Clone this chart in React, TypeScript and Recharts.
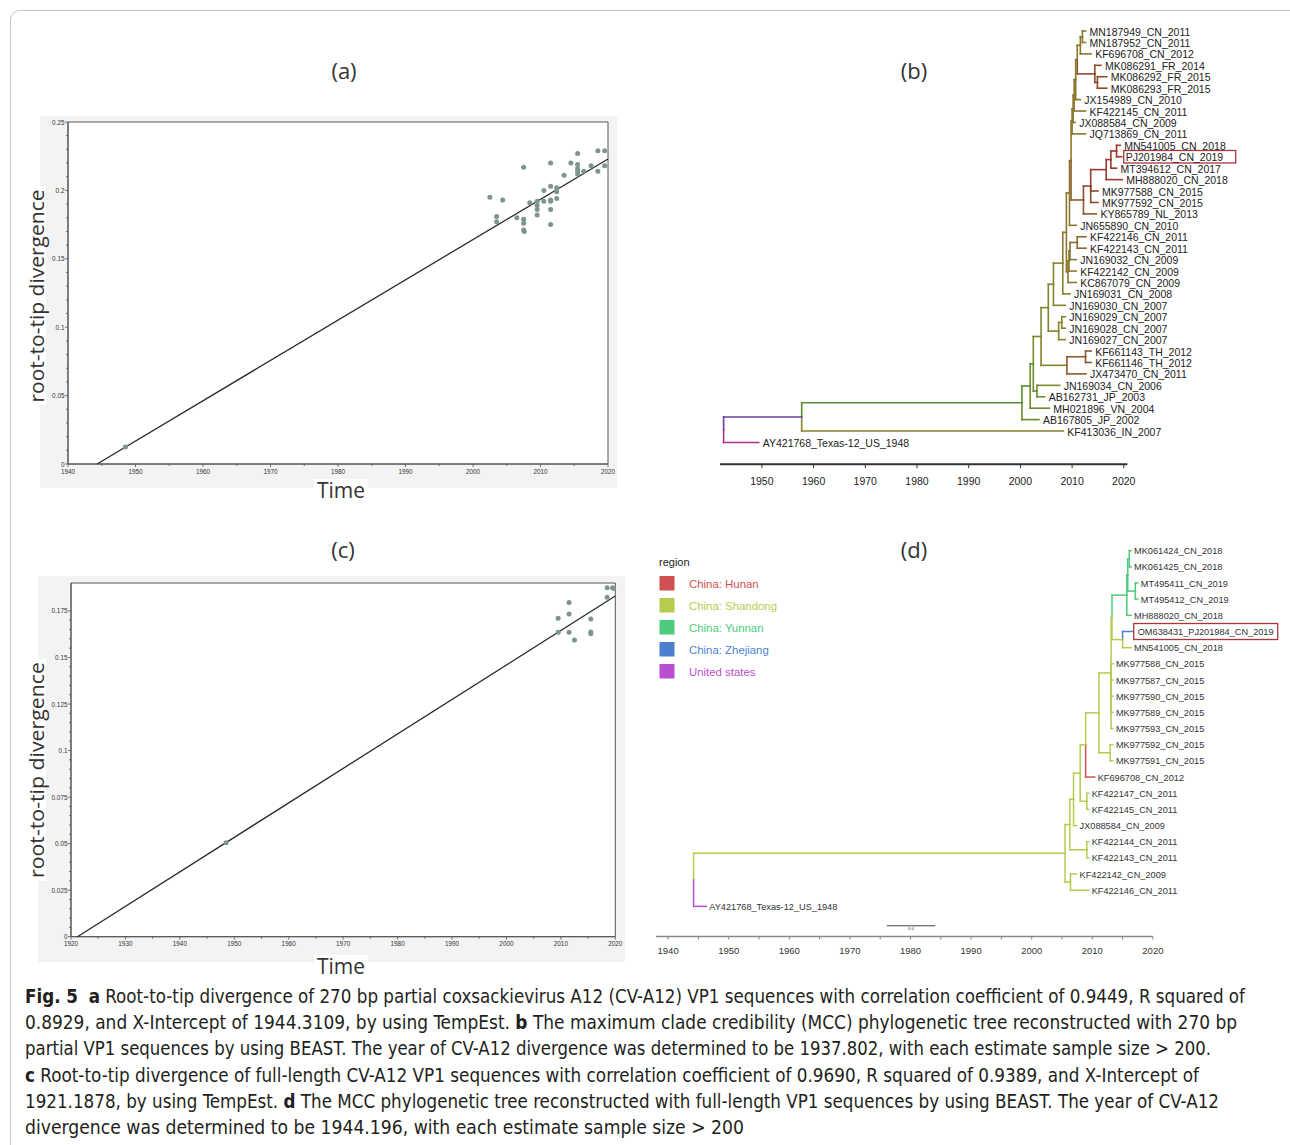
import React from "react";
import { ComposedChart, Scatter, XAxis, YAxis, ReferenceLine, ReferenceArea } from "recharts";

// ---------------- data ----------------
// (a) root-to-tip divergence, 270 bp partial VP1  [year, divergence]
const rttA: [number, number][] = [
  [1948.5, 0.0125],
  [2002.5, 0.195], [2004.4, 0.193], [2003.5, 0.181], [2003.5, 0.177], [2006.5, 0.18],
  [2007.5, 0.217], [2007.5, 0.179], [2007.5, 0.176], [2007.5, 0.171], [2007.6, 0.17],
  [2008.4, 0.191], [2009.5, 0.192], [2009.5, 0.189], [2009.5, 0.186], [2009.5, 0.182],
  [2010.5, 0.2], [2010.5, 0.192], [2011.5, 0.22], [2011.5, 0.203], [2011.5, 0.193],
  [2011.5, 0.192], [2011.5, 0.186], [2011.5, 0.175], [2012.4, 0.202], [2012.4, 0.199],
  [2012.4, 0.194], [2013.5, 0.211], [2014.5, 0.22], [2015.5, 0.227], [2015.5, 0.219],
  [2015.5, 0.216], [2015.5, 0.214], [2015.5, 0.212], [2016.4, 0.214], [2017.5, 0.218],
  [2018.5, 0.229], [2018.5, 0.214], [2019.5, 0.229], [2019.5, 0.218],
];
const fitA_years = [1944.3109, 2020];
const fitA_div = [0, 0.223];

// (c) root-to-tip divergence, full-length VP1
const rttC: [number, number][] = [
  [1948.5, 0.0505],
  [2009.5, 0.171], [2009.5, 0.1636], [2011.5, 0.1795], [2011.5, 0.1734], [2011.5, 0.1636],
  [2012.5, 0.1594], [2015.5, 0.1707], [2015.5, 0.1637], [2015.5, 0.1627],
  [2018.5, 0.1874], [2018.5, 0.1824], [2019.5, 0.1874], [2019.7, 0.187],
];
const fitC_years = [1921.1878, 2020];
const fitC_div = [0, 0.183];

const yearTicksA = [1940, 1950, 1960, 1970, 1980, 1990, 2000, 2010, 2020];
const divTicksA = [0, 0.05, 0.1, 0.15, 0.2, 0.25];
const yearTicksC = [1920, 1930, 1940, 1950, 1960, 1970, 1980, 1990, 2000, 2010, 2020];
const divTicksC = [0, 0.025, 0.05, 0.075, 0.1, 0.125, 0.15, 0.175];
const yearTicksB = [1950, 1960, 1970, 1980, 1990, 2000, 2010, 2020];
const yearTicksD = [1940, 1950, 1960, 1970, 1980, 1990, 2000, 2010, 2020];

// (b) MCC tree, 270 bp partial VP1
const treeB_leaves = [
  "MN187949_CN_2011", "MN187952_CN_2011", "KF696708_CN_2012", "MK086291_FR_2014",
  "MK086292_FR_2015", "MK086293_FR_2015", "JX154989_CN_2010", "KF422145_CN_2011",
  "JX088584_CN_2009", "JQ713869_CN_2011", "MN541005_CN_2018", "PJ201984_CN_2019",
  "MT394612_CN_2017", "MH888020_CN_2018", "MK977588_CN_2015", "MK977592_CN_2015",
  "KY865789_NL_2013", "JN655890_CN_2010", "KF422146_CN_2011", "KF422143_CN_2011",
  "JN169032_CN_2009", "KF422142_CN_2009", "KC867079_CN_2009", "JN169031_CN_2008",
  "JN169030_CN_2007", "JN169029_CN_2007", "JN169028_CN_2007", "JN169027_CN_2007",
  "KF661143_TH_2012", "KF661146_TH_2012", "JX473470_CN_2011", "JN169034_CN_2006",
  "AB162731_JP_2003", "MH021896_VN_2004", "AB167805_JP_2002", "KF413036_IN_2007",
  "AY421768_Texas-12_US_1948",
];
const treeB_tips = [
  2012.6, 2012.6, 2013.7, 2015.6, 2016.7, 2016.7, 2011.6, 2012.6, 2010.6, 2012.6,
  2019.3, 2019.6, 2018.6, 2019.7, 2015.0, 2015.0, 2014.7, 2010.8, 2012.7, 2012.7,
  2010.8, 2010.8, 2010.8, 2009.6, 2008.7, 2008.7, 2008.7, 2008.7, 2013.7, 2013.7,
  2012.7, 2007.6, 2004.7, 2005.6, 2003.6, 2008.3, 1949.4,
];
type NodeDef = [string, number, (number | string)[]];
const treeB_nodes: NodeDef[] = [
  ["U1", 2012.0, [0, 1]],
  ["U2", 2011.6, ["U1", 2]],
  ["FRa", 2014.9, [4, 5]],
  ["FR", 2014.4, [3, "FRa"]],
  ["U3", 2011.0, ["U2", "FR"]],
  ["U4", 2010.7, ["U3", 6]],
  ["U5", 2010.4, ["U4", 7]],
  ["U6", 2010.2, ["U5", 8]],
  ["U7", 2010.0, ["U6", 9]],
  ["R1", 2018.6, [10, 11]],
  ["R2", 2017.5, ["R1", 12]],
  ["R3", 2016.6, ["R2", 13]],
  ["R4", 2013.6, ["R3", 14, 15]],
  ["R5", 2012.2, ["R4", 16]],
  ["U8", 2009.8, ["U7", "R5"]],
  ["U9", 2009.5, ["U8", 17]],
  ["L1", 2011.0, [18, 19]],
  ["L2", 2009.6, ["L1", 20]],
  ["L3", 2009.4, ["L2", 21]],
  ["L4", 2009.2, ["L3", 22]],
  ["U10", 2008.9, ["U9", "L4"]],
  ["N8", 2008.2, ["U10", 23]],
  ["N7", 2006.4, ["N8", 24]],
  ["G1", 2008.0, [25, 26]],
  ["G2", 2007.4, ["G1", 27]],
  ["N6", 2005.4, ["N7", "G2"]],
  ["THa", 2012.6, [28, 29]],
  ["TH", 2009.0, ["THa", 30]],
  ["N5", 2004.0, ["N6", "TH"]],
  ["N4", 2003.2, [31, 32]],
  ["N3", 2002.5, ["N5", "N4"]],
  ["N2", 2001.9, ["N3", 33]],
  ["N1", 2000.3, ["N2", 34]],
  ["R0", 1957.7, ["N1", 35]],
  ["root", 1942.6, ["R0", 36]],
];
const treeB_highlight = "PJ201984_CN_2019";

// (d) MCC tree, full-length VP1
const regions = ["China: Hunan", "China: Shandong", "China: Yunnan", "China: Zhejiang", "United states"];
const treeD_leaves = [
  "MK061424_CN_2018", "MK061425_CN_2018", "MT495411_CN_2019", "MT495412_CN_2019",
  "MH888020_CN_2018", "OM638431_PJ201984_CN_2019", "MN541005_CN_2018", "MK977588_CN_2015",
  "MK977587_CN_2015", "MK977590_CN_2015", "MK977589_CN_2015", "MK977593_CN_2015",
  "MK977592_CN_2015", "MK977591_CN_2015", "KF696708_CN_2012", "KF422147_CN_2011",
  "KF422145_CN_2011", "JX088584_CN_2009", "KF422144_CN_2011", "KF422143_CN_2011",
  "KF422142_CN_2009", "KF422146_CN_2011", "AY421768_Texas-12_US_1948",
];
const treeD_tips = [
  2016.4, 2016.4, 2017.5, 2017.5, 2016.4, 2017.0, 2016.4, 2013.4, 2013.4, 2013.4,
  2013.4, 2013.4, 2013.4, 2013.4, 2010.4, 2009.4, 2009.4, 2007.4, 2009.4, 2009.4,
  2007.4, 2009.4, 1946.3,
];
const treeD_leafRegion = [2, 2, 2, 2, 2, 3, 1, 1, 1, 1, 1, 1, 1, 1, 0, 1, 1, 1, 1, 1, 1, 1, 4];
const treeD_nodes: NodeDef[] = [
  ["Y1", 2016.1, [0, 1]],
  ["Y2", 2017.1, [2, 3]],
  ["Y3", 2015.85, ["Y1", "Y2"]],
  ["Y4", 2015.7, ["Y3", 4]],
  ["Z2", 2015.0, [5, 6]],
  ["Z", 2013.25, ["Y4", "Z2"]],
  ["Z3", 2013.1, ["Z", 7, 8, 9, 10, 11]],
  ["Z6", 2012.95, [12, 13]],
  ["Z7", 2011.1, ["Z3", "Z6"]],
  ["Z8", 2008.9, ["Z7", 14]],
  ["Z10", 2009.1, [15, 16]],
  ["Z9", 2008.0, ["Z8", "Z10"]],
  ["Z11", 2006.9, ["Z9", 17]],
  ["Zk", 2009.1, [18, 19]],
  ["Z12", 2006.3, ["Z11", "Zk"]],
  ["Zm", 2006.4, [20, 21]],
  ["Z13", 2005.5, ["Z12", "Zm"]],
  ["root", 1944.2, ["Z13", 22]],
];
const treeD_nodeRegion: Record<string, number> = {
  Y1: 2, Y2: 2, Y3: 2, Y4: 2, Z2: 1, Z: 1, Z3: 1, Z6: 1, Z7: 1, Z8: 1, Z10: 1, Z9: 1,
  Z11: 1, Zk: 1, Z12: 1, Zm: 1, Z13: 1, root: 1,
};
const treeD_highlight = "OM638431_PJ201984_CN_2019";
const scaleBarD_length = 8.0;

// ---------------- styles ----------------
const FF = "'Liberation Sans', Arial, Helvetica, sans-serif";
const FT = "'Open Sans', 'Noto Sans', sans-serif";
const CAP_FONT = "'DejaVu Sans Condensed', 'Liberation Sans Narrow', 'Noto Sans', sans-serif";
const regionColors = ["#d05050", "#b6cc4e", "#4ccb7d", "#4d7fd0", "#b94fce"];
const palB: Record<string, string> = {
  g1: "#5b8b30", g2: "#6a8c2e", g3: "#7a8a2d", o1: "#85822c", o2: "#8a762c",
  o3: "#8b682c", b1: "#8c5a2c", b2: "#8f4a2c", r1: "#9c3a2e", p1: "#6b3fa0", m1: "#a83480",
};
const treeB_leafStyle = [
  "o2", "o2", "o2", "b2", "b2", "b2", "o2", "o2", "o2", "o2", "r1", "r1", "r1", "r1",
  "b2", "b2", "b1", "o2", "o3", "o3", "o2", "o2", "o2", "o1", "o1", "o1", "o1", "o1",
  "b1", "b1", "b1", "g3", "g2", "g2", "g2", "o1", "m1",
];
const treeB_nodeStyle: Record<string, string> = {
  U1: "o2", U2: "o2", FRa: "b2", FR: "b2", U3: "o2", U4: "o2", U5: "o2", U6: "o2", U7: "o2",
  R1: "r1", R2: "r1", R3: "r1", R4: "b2", R5: "b1", U8: "o2", U9: "o2", L1: "o3", L2: "o2",
  L3: "o2", L4: "o2", U10: "o2", N8: "o1", N7: "o1", G1: "o1", G2: "o1", N6: "g3", THa: "b1",
  TH: "o1", N5: "g3", N4: "g2", N3: "g2", N2: "g1", N1: "g1", R0: "p1", root: "p1",
};

// ---------------- helpers ----------------
function rangeTicks(lo: number, hi: number, step: number) {
  const out: number[] = [];
  const n = Math.round((hi - lo) / step);
  for (let i = 0; i <= n; i++) out.push(+(lo + i * step).toFixed(4));
  return out;
}
const isIn = (v: number, arr: number[]) => arr.some((m) => Math.abs(m - v) < 1e-7);
const fmt = (v: number) => String(+v.toFixed(3));

let measureCtx: CanvasRenderingContext2D | null = null;
function measureText(t: string, bold: boolean, size: number) {
  if (!measureCtx && typeof document !== "undefined") {
    measureCtx = document.createElement("canvas").getContext("2d");
  }
  if (!measureCtx) return t.length * size * 0.5;
  measureCtx.font = `${bold ? "bold " : ""}${size}px ${CAP_FONT}`;
  return measureCtx.measureText(t).width;
}

function RttPanel(p: any) {
  const { box, plot, xDomain, yDomain, xMajor, yMajor, xStep, yStep, points, fitX, fitY } = p;
  const xAxisH = 20;
  const yAxisW = plot.l - box.l;
  const margin = {
    top: plot.t - box.t,
    right: box.l + box.w - plot.r,
    bottom: box.t + box.h - plot.b - xAxisH,
    left: 0,
  };
  const xTicks = rangeTicks(xDomain[0], xDomain[1], xStep);
  const yTicks = rangeTicks(yDomain[0], yMajor[yMajor.length - 1], yStep);
  const data = points.map(([x, y]: [number, number]) => ({ x, y }));
  const fit = fitX.map((x: number, i: number) => ({ x, y: fitY[i] }));
  return (
    <div style={{ position: "absolute", left: box.l, top: box.t, width: box.w, height: box.h, background: "#f3f3f3" }}>
      <ComposedChart width={box.w} height={box.h} margin={margin}>
        <XAxis
          type="number" dataKey="x" domain={xDomain} ticks={xTicks} interval={0}
          tickSize={0} tickMargin={0} height={xAxisH} axisLine={{ stroke: "#555" }} tickLine={false}
          tick={(t: any) => {
            const maj = isIn(t.payload.value, xMajor);
            return (
              <g>
                <line x1={t.x} x2={t.x} y1={t.y} y2={t.y + (maj ? 3 : 2)} stroke="#555" strokeWidth={0.8} />
                {maj && (
                  <text x={t.x} y={t.y + 7} textAnchor="middle" dominantBaseline="central" fontSize={6.4} fontFamily={FF} fill="#333">
                    {t.payload.value}
                  </text>
                )}
              </g>
            );
          }}
        />
        <YAxis
          type="number" dataKey="y" domain={yDomain} ticks={yTicks} interval={0} width={yAxisW}
          tickSize={0} tickMargin={0} axisLine={{ stroke: "#555" }} tickLine={false}
          tick={(t: any) => {
            const maj = isIn(t.payload.value, yMajor);
            return (
              <g>
                <line x1={t.x - (maj ? 3 : 2)} x2={t.x} y1={t.y} y2={t.y} stroke="#555" strokeWidth={0.8} />
                {maj && (
                  <text x={t.x - 3.5} y={t.y} textAnchor="end" dominantBaseline="central" fontSize={6.4} fontFamily={FF} fill="#333">
                    {fmt(t.payload.value)}
                  </text>
                )}
              </g>
            );
          }}
        />
        <ReferenceArea x1={xDomain[0]} x2={xDomain[1]} y1={yDomain[0]} y2={yDomain[1]} fill="#ffffff" fillOpacity={1} stroke="#555" strokeWidth={1} ifOverflow="visible" />
        <Scatter
          data={fit} isAnimationActive={false}
          line={{ stroke: "#2a2a2a", strokeWidth: 1.3 }}
          shape={() => <g />}
        />
        <Scatter
          data={data} isAnimationActive={false}
          shape={(s: any) => <circle cx={s.cx} cy={s.cy} r={2.5} fill="#7c958f" />}
        />
      </ComposedChart>
    </div>
  );
}

function buildSegments(tips: number[], nodes: NodeDef[]) {
  const map: Record<string, NodeDef> = {};
  nodes.forEach((n) => (map[n[0]] = n));
  const yOf = (r: number | string): number => {
    if (typeof r === "number") return r;
    const ch = map[r][2];
    return (yOf(ch[0]) + yOf(ch[ch.length - 1])) / 2;
  };
  const xOf = (r: number | string) => (typeof r === "number" ? tips[r] : map[r][1]);
  const segs: any[] = [];
  nodes.forEach((n) => {
    const nx = n[1];
    const ny = yOf(n[0]);
    n[2].forEach((c) => {
      const cy = yOf(c);
      segs.push({ x1: nx, y1: ny, x2: nx, y2: cy, c });
      segs.push({ x1: nx, y1: cy, x2: xOf(c), y2: cy, c });
    });
  });
  return segs;
}

function TreePanel(p: any) {
  const {
    box, plot, xDomain, yDomain, leaves, tips, nodes, colorOf, strokeW, fontSize, labelDx,
    labelColor, highlight, hl, xMajor, xMinor, axis, extra,
  } = p;
  const xAxisH = axis.height;
  const margin = {
    top: plot.t - box.t,
    right: box.l + box.w - plot.r,
    bottom: box.t + box.h - plot.b - xAxisH,
    left: plot.l - box.l,
  };
  const segs = buildSegments(tips, nodes).filter((s) => Math.abs(s.x1 - s.x2) > 1e-9 || Math.abs(s.y1 - s.y2) > 1e-9);
  const leafData = leaves.map((name: string, i: number) => ({ x: tips[i], y: i, name }));
  const xTicks = [...xMajor, ...xMinor].sort((a: number, b: number) => a - b);
  return (
    <div style={{ position: "absolute", left: box.l, top: box.t, width: box.w, height: box.h }}>
      <ComposedChart width={box.w} height={box.h} margin={margin}>
        <XAxis
          type="number" dataKey="x" domain={xDomain} ticks={xTicks} interval={0}
          tickSize={0} tickMargin={0} height={xAxisH} tickLine={false}
          axisLine={{ stroke: axis.color, strokeWidth: axis.width }}
          tick={(t: any) => {
            const maj = isIn(t.payload.value, xMajor);
            return (
              <g>
                <line x1={t.x} x2={t.x} y1={t.y} y2={t.y + axis.tickLen} stroke={axis.color} strokeWidth={1} />
                {maj && (
                  <text x={t.x} y={t.y + axis.labelDy} textAnchor="middle" dominantBaseline="central" fontSize={axis.fontSize} fontFamily={FF} fill={axis.labelColor}>
                    {t.payload.value}
                  </text>
                )}
              </g>
            );
          }}
        />
        <YAxis type="number" dataKey="y" domain={yDomain} reversed hide width={0} />
        {segs.map((s: any, i: number) => (
          <ReferenceLine
            key={"s" + i}
            segment={[{ x: s.x1, y: s.y1 }, { x: s.x2, y: s.y2 }]}
            stroke={colorOf(s.c)} strokeWidth={strokeW} strokeLinecap="square" ifOverflow="visible"
          />
        ))}
        {extra}
        <Scatter
          data={leafData} isAnimationActive={false}
          shape={(s: any) => {
            const name = s.payload.name;
            const on = name === highlight;
            return (
              <g>
                {on && (
                  <rect x={s.cx + labelDx - hl.padL} y={s.cy - hl.h / 2} width={hl.w} height={hl.h} fill="#fff" stroke="#a8363a" strokeWidth={1.3} />
                )}
                <text x={s.cx + labelDx} y={s.cy + 0.5} dominantBaseline="central" fontSize={fontSize} fontFamily={FF} fill={labelColor}>
                  {name}
                </text>
              </g>
            );
          }}
        />
      </ComposedChart>
    </div>
  );
}

const captionLines: (string | { b: string })[][] = [
  [{ b: "Fig. 5" }, "  ", { b: "a" }, " Root-to-tip divergence of 270 bp partial coxsackievirus A12 (CV-A12) VP1 sequences with correlation coefficient of 0.9449, R squared of"],
  ["0.8929, and X-Intercept of 1944.3109, by using TempEst. ", { b: "b" }, " The maximum clade credibility (MCC) phylogenetic tree reconstructed with 270 bp"],
  ["partial VP1 sequences by using BEAST. The year of CV-A12 divergence was determined to be 1937.802, with each estimate sample size > 200."],
  [{ b: "c" }, " Root-to-tip divergence of full-length CV-A12 VP1 sequences with correlation coefficient of 0.9690, R squared of 0.9389, and X-Intercept of"],
  ["1921.1878, by using TempEst. ", { b: "d" }, " The MCC phylogenetic tree reconstructed with full-length VP1 sequences by using BEAST. The year of CV-A12"],
  ["divergence was determined to be 1944.196, with each estimate sample size > 200"],
];
const captionEnds = [1245, 1237, 1211, 1199, 1219, 744];

function CaptionLine({ parts, y, x0, x1, size }: any) {
  const items = parts.map((pt: any) => {
    const bold = typeof pt !== "string";
    const raw: string = bold ? pt.b : pt;
    const lead = raw.length - raw.trimStart().length;
    const txt = raw.trim();
    return { bold, txt, lead: raw.slice(0, lead), trail: raw.slice(lead + txt.length) };
  });
  // total natural width
  let total = 0;
  const widths = items.map((it: any) => {
    const wl = it.lead ? measureText(it.lead, it.bold, size) : 0;
    const wt = it.txt ? measureText(it.txt, it.bold, size) : 0;
    const wr = it.trail ? measureText(it.trail, it.bold, size) : 0;
    total += wl + wt + wr;
    return { wl, wt, wr };
  });
  const s = (x1 - x0) / total;
  let cx = x0;
  const out: any[] = [];
  items.forEach((it: any, j: number) => {
    const w = widths[j];
    cx += w.wl * s;
    if (it.txt) {
      out.push(
        <text
          key={j} x={cx} y={y} dominantBaseline="central" fontSize={size} fontFamily={CAP_FONT}
          fontWeight={it.bold ? "bold" : "normal"} fill="#231f20"
          textLength={w.wt * s} lengthAdjust="spacingAndGlyphs"
        >
          {it.txt}
        </text>
      );
    }
    cx += w.wt * s + w.wr * s;
  });
  return <g>{out}</g>;
}

export default function App() {
  return (
    <div style={{ position: "absolute", left: 0, top: 0, width: 1290, height: 1145, overflow: "hidden", background: "#fff" }}>
      <div style={{ position: "absolute", left: 10, top: 10, width: 1300, height: 1160, border: "1px solid #c4c4c4", borderRadius: 10 }} />

      <RttPanel
        box={{ l: 40, t: 116, w: 577, h: 372 }}
        plot={{ l: 68, t: 122, r: 608, b: 464 }}
        xDomain={[1940, 2020]} yDomain={[0, 0.25]}
        xMajor={yearTicksA} yMajor={divTicksA} xStep={5} yStep={0.01}
        points={rttA} fitX={fitA_years} fitY={fitA_div}
      />
      <RttPanel
        box={{ l: 38, t: 576, w: 587, h: 386 }}
        plot={{ l: 71, t: 583, r: 615.3, b: 936.7 }}
        xDomain={[1920, 2020]} yDomain={[0, 0.19]}
        xMajor={yearTicksC} yMajor={divTicksC} xStep={5} yStep={0.005}
        points={rttC} fitX={fitC_years} fitY={fitC_div}
      />

      <TreePanel
        box={{ l: 700, t: 10, w: 590, h: 490 }}
        plot={{ l: 720, t: 19.6, r: 1127.4, b: 464.2 }}
        xDomain={[1941.9, 2020.7]} yDomain={[-1, 37.9]}
        leaves={treeB_leaves} tips={treeB_tips} nodes={treeB_nodes}
        colorOf={(c: number | string) => palB[typeof c === "number" ? treeB_leafStyle[c] : treeB_nodeStyle[c]]}
        strokeW={1.6} fontSize={10.5} labelDx={4} labelColor="#222"
        highlight={treeB_highlight} hl={{ padL: 2, w: 112, h: 12.5 }}
        xMajor={yearTicksB} xMinor={[]}
        axis={{ height: 30, color: "#333", width: 2, tickLen: 4, labelDy: 17, fontSize: 10.5, labelColor: "#222" }}
      />

      <TreePanel
        box={{ l: 640, t: 525, w: 650, h: 440 }}
        plot={{ l: 656, t: 534.5, r: 1152.9, b: 936.6 }}
        xDomain={[1938, 2020]} yDomain={[-1, 23.87]}
        leaves={treeD_leaves} tips={treeD_tips} nodes={treeD_nodes}
        colorOf={(c: number | string) => regionColors[typeof c === "number" ? treeD_leafRegion[c] : treeD_nodeRegion[c]]}
        strokeW={1.5} fontSize={9.2} labelDx={3} labelColor="#333"
        highlight={treeD_highlight} hl={{ padL: 4, w: 144, h: 16 }}
        xMajor={yearTicksD} xMinor={[1945, 1955, 1965, 1975, 1985, 1995, 2005, 2015]}
        axis={{ height: 22, color: "#888", width: 1.5, tickLen: 3, labelDy: 13.5, fontSize: 9.5, labelColor: "#333" }}
        extra={
          <ReferenceLine
            segment={[{ x: 1976.1, y: 23.2 }, { x: 1976.1 + scaleBarD_length, y: 23.2 }]}
            stroke="#444" strokeWidth={1} ifOverflow="visible"
            label={{ value: scaleBarD_length.toFixed(1), position: "bottom", offset: 1, fontSize: 4.5, fill: "#444" }}
          />
        }
      />

      <svg width={1290} height={1145} style={{ position: "absolute", left: 0, top: 0, pointerEvents: "none" }}>
        {/* panel titles */}
        {[["(a)", 344, 70], ["(b)", 914, 70], ["(c)", 343, 549], ["(d)", 914, 549]].map(([t, x, y]) => (
          <text key={t as string} x={x as number} y={y as number} textAnchor="middle" dominantBaseline="central" fontSize={22} fontFamily={FT} fill="#333">
            {t}
          </text>
        ))}
        {/* axis titles */}
        {[[296, 213], [770, 216]].map(([cy, len], i) => (
          <g key={"yt" + i}>
            <rect x={26} y={cy - len / 2 - 3} width={20} height={len + 6} fill="#fff" />
            <text
              x={36} y={cy} transform={`rotate(-90 36 ${cy})`} textAnchor="middle" dominantBaseline="central"
              fontSize={20} fontFamily={FT} fill="#333" textLength={len} lengthAdjust="spacingAndGlyphs"
            >
              root-to-tip divergence
            </text>
          </g>
        ))}
        {[490, 966].map((cy, i) => (
          <g key={"xt" + i}>
            <rect x={314} y={cy - 11} width={54} height={22} fill="#fff" />
            <text x={341} y={cy} textAnchor="middle" dominantBaseline="central" fontSize={21} fontFamily={FT} fill="#333">
              Time
            </text>
          </g>
        ))}
        {/* legend (d) */}
        <text x={659} y={562} dominantBaseline="central" fontSize={11} fontFamily={FF} fill="#222">region</text>
        {regions.map((r, i) => (
          <g key={r}>
            <rect x={659.5} y={576 + 22 * i} width={15} height={14.5} fill={regionColors[i]} />
            <text x={689} y={583.8 + 22 * i} dominantBaseline="central" fontSize={11.4} fontFamily={FF} fill={regionColors[i]}>
              {r}
            </text>
          </g>
        ))}
        {/* caption */}
        {captionLines.map((parts, i) => (
          <CaptionLine key={"c" + i} parts={parts} y={996 + 26.2 * i} x0={25} x1={captionEnds[i]} size={19} />
        ))}
      </svg>
    </div>
  );
}
